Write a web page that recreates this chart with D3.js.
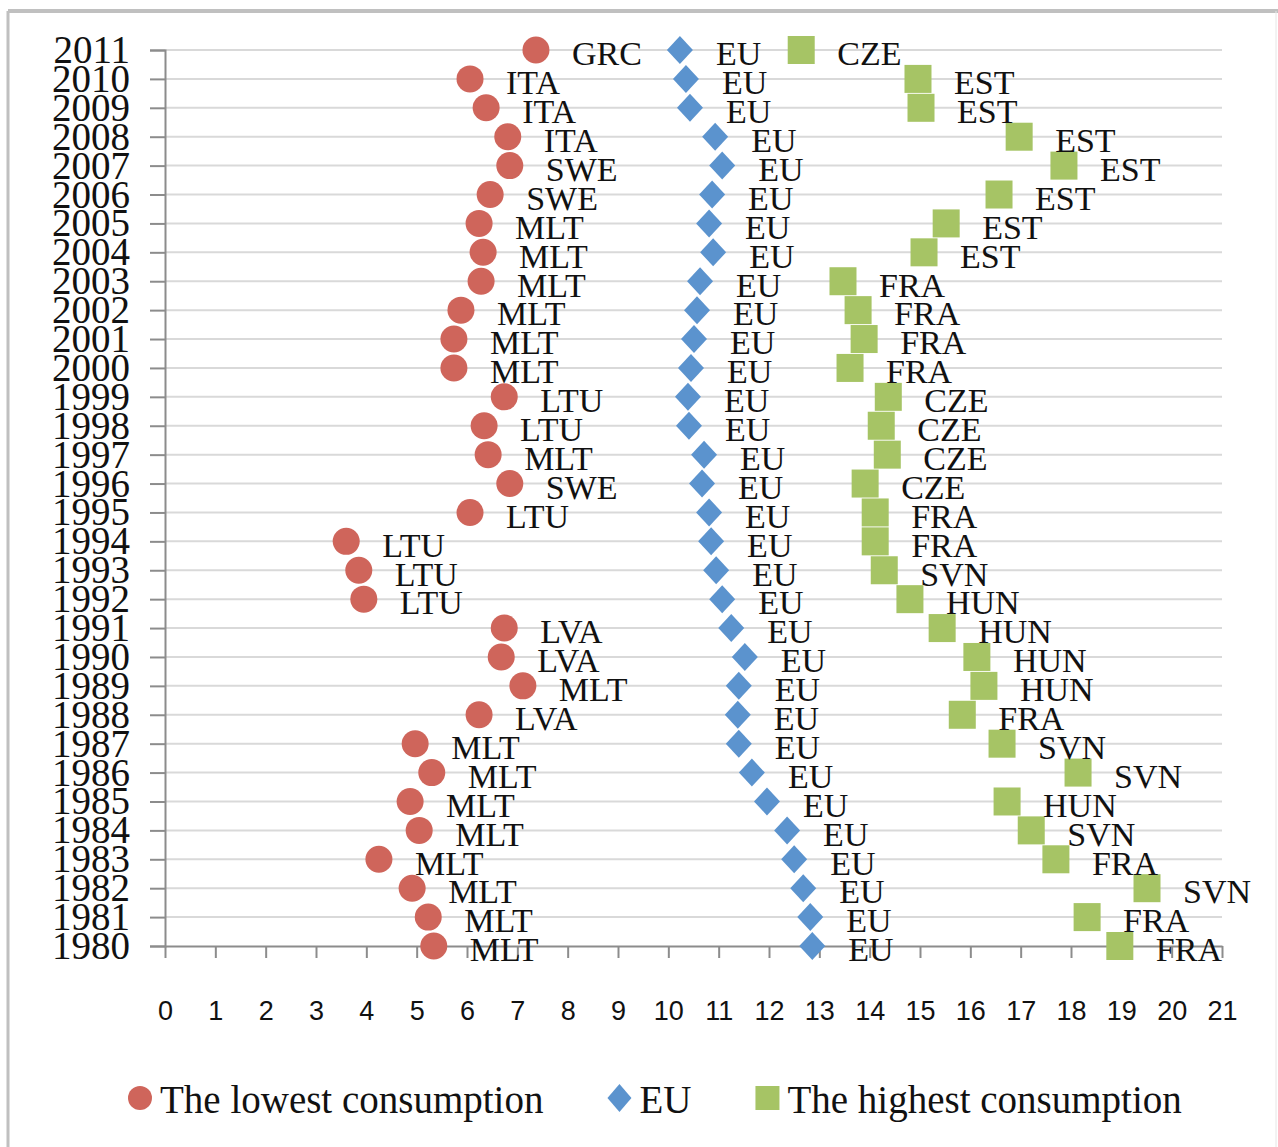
<!DOCTYPE html>
<html>
<head>
<meta charset="utf-8">
<script src="https://cdn.jsdelivr.net/npm/d3@7"></script>
<style>
  html, body { margin: 0; padding: 0; background: #fff; }
  svg { display: block; }
</style>
</head>
<body>
<div id="chart"></div>
<script>
// years from bottom (1980) to top (2011)
var years = d3.range(1980, 2012);

// lowest consumption per year, 1980..2011
var lowValues = [5.34, 5.23, 4.91, 4.25, 5.05, 4.87, 5.30, 4.97, 6.24, 7.11, 6.68, 6.74,
                 3.95, 3.85, 3.60, 6.06, 6.85, 6.42, 6.34, 6.74, 5.74, 5.74, 5.88, 6.28,
                 6.32, 6.24, 6.46, 6.85, 6.81, 6.38, 6.06, 7.37];
var lowLabels = ["MLT", "MLT", "MLT", "MLT", "MLT", "MLT", "MLT", "MLT", "LVA", "MLT", "LVA", "LVA",
                 "LTU", "LTU", "LTU", "LTU", "SWE", "MLT", "LTU", "LTU", "MLT", "MLT", "MLT", "MLT",
                 "MLT", "MLT", "SWE", "SWE", "ITA", "ITA", "ITA", "GRC"];

// EU average per year
var euValues = [12.86, 12.82, 12.68, 12.50, 12.36, 11.96, 11.66, 11.40, 11.38, 11.40, 11.52, 11.25,
                11.07, 10.95, 10.85, 10.81, 10.67, 10.71, 10.41, 10.39, 10.45, 10.51, 10.57, 10.63,
                10.89, 10.81, 10.87, 11.07, 10.93, 10.43, 10.35, 10.23];

// highest consumption per year
var highValues = [18.97, 18.32, 19.51, 17.70, 17.21, 16.73, 18.14, 16.63, 15.84, 16.27, 16.13, 15.44,
                  14.80, 14.29, 14.11, 14.11, 13.91, 14.35, 14.23, 14.37, 13.61, 13.89, 13.77, 13.47,
                  15.08, 15.52, 16.57, 17.86, 16.97, 15.02, 14.96, 12.64];
var highLabels = ["FRA", "FRA", "SVN", "FRA", "SVN", "HUN", "SVN", "SVN", "FRA", "HUN", "HUN", "HUN",
                  "HUN", "SVN", "FRA", "FRA", "CZE", "CZE", "CZE", "CZE", "FRA", "FRA", "FRA", "FRA",
                  "EST", "EST", "EST", "EST", "EST", "EST", "EST", "CZE"];

var xTicks = d3.range(0, 22);
var legendNames = ["The lowest consumption", "EU", "The highest consumption"];

var W = 1278, H = 1147;
var colors = { low: "#cf655b", eu: "#5b93ce", high: "#a6c465" };
var serif = "'Liberation Serif', 'Times New Roman', serif";

var svg = d3.select("#chart").append("svg")
  .attr("width", W).attr("height", H);

// outer frame
svg.append("line").attr("x1", 8).attr("x2", W).attr("y1", 11).attr("y2", 11)
  .attr("stroke", "#c0c0c0").attr("stroke-width", 4);
svg.append("line").attr("x1", 8).attr("x2", 8).attr("y1", 11).attr("y2", H)
  .attr("stroke", "#c0c0c0").attr("stroke-width", 3);
svg.append("line").attr("x1", W - 2).attr("x2", W - 2).attr("y1", 11).attr("y2", H)
  .attr("stroke", "#e6e6e6").attr("stroke-width", 1);

var x = d3.scaleLinear().domain([0, 21]).range([165, 1222]);
var y = d3.scaleLinear().domain([1980, 2011]).range([946, 50]);

// gridlines
svg.append("g").selectAll("line")
  .data(years.slice(1))
  .enter().append("line")
    .attr("x1", x(0)).attr("x2", x(21))
    .attr("y1", function(d) { return y(d); })
    .attr("y2", function(d) { return y(d); })
    .attr("stroke", "#d9d9d9").attr("stroke-width", 2);

// y axis (years)
var yAxis = svg.append("g")
  .attr("transform", "translate(" + x(0) + ",0)")
  .call(d3.axisLeft(y).tickValues(years).tickFormat(d3.format("d")).tickSize(15).tickPadding(20));
yAxis.select(".domain").attr("stroke", "#8c8c8c").attr("stroke-width", 2);
yAxis.selectAll(".tick line").attr("stroke", "#8c8c8c").attr("stroke-width", 2);
yAxis.selectAll("text")
  .attr("font-family", serif).attr("font-size", 39).attr("fill", "#111");

// x axis
var xAxis = svg.append("g")
  .attr("transform", "translate(0," + y(1980) + ")")
  .call(d3.axisBottom(x).tickValues(xTicks).tickFormat(d3.format("d")).tickSize(12).tickPadding(43).tickSizeOuter(0));
xAxis.select(".domain").attr("stroke", "#8c8c8c").attr("stroke-width", 2);
xAxis.selectAll(".tick line").attr("stroke", "#8c8c8c").attr("stroke-width", 2);
xAxis.selectAll("text")
  .attr("font-family", "'Liberation Sans', Arial, sans-serif").attr("font-size", 27).attr("fill", "#111");

// custom marker shapes
var diamondPath = function(cx, cy, w, h) {
  return "M" + cx + "," + (cy - h / 2) + "L" + (cx + w / 2) + "," + cy +
         "L" + cx + "," + (cy + h / 2) + "L" + (cx - w / 2) + "," + cy + "Z";
};

var rows = years.map(function(yr, i) {
  return { year: yr, low: lowValues[i], lowLab: lowLabels[i], eu: euValues[i],
           high: highValues[i], highLab: highLabels[i] };
});

var labelOffset = 36;
var labelFont = 34;

// series: lowest (circles)
var gLow = svg.append("g");
gLow.selectAll("circle").data(rows).enter().append("circle")
  .attr("cx", function(d) { return x(d.low); })
  .attr("cy", function(d) { return y(d.year); })
  .attr("r", 13.5)
  .attr("fill", colors.low);

// series: EU (diamonds)
var gEu = svg.append("g");
gEu.selectAll("path").data(rows).enter().append("path")
  .attr("d", function(d) { return diamondPath(x(d.eu), y(d.year), 26, 28); })
  .attr("fill", colors.eu);

// series: highest (squares)
var gHigh = svg.append("g");
gHigh.selectAll("rect").data(rows).enter().append("rect")
  .attr("x", function(d) { return x(d.high) - 13.5; })
  .attr("y", function(d) { return y(d.year) - 14; })
  .attr("width", 27).attr("height", 28)
  .attr("fill", colors.high);

// data labels
function addLabels(g, valueKey, textFn) {
  g.selectAll("text").data(rows).enter().append("text")
    .attr("x", function(d) { return x(d[valueKey]) + labelOffset; })
    .attr("y", function(d) { return y(d.year); })
    .attr("dy", "0.45em")
    .attr("font-family", serif).attr("font-size", labelFont).attr("fill", "#111")
    .text(textFn);
}
addLabels(svg.append("g"), "low", function(d) { return d.lowLab; });
addLabels(svg.append("g"), "eu", function() { return "EU"; });
addLabels(svg.append("g"), "high", function(d) { return d.highLab; });

// legend
var legend = svg.append("g").attr("transform", "translate(0,1100)");
var lx = 128;
legendNames.forEach(function(name, i) {
  if (i === 0) {
    legend.append("circle").attr("cx", lx + 12).attr("cy", -2).attr("r", 12).attr("fill", colors.low);
  } else if (i === 1) {
    legend.append("path").attr("d", diamondPath(lx + 12, -2, 24, 28)).attr("fill", colors.eu);
  } else {
    legend.append("rect").attr("x", lx).attr("y", -14).attr("width", 24).attr("height", 24).attr("fill", colors.high);
  }
  var t = legend.append("text")
    .attr("x", lx + 32).attr("y", 13)
    .attr("font-family", serif).attr("font-size", 39).attr("fill", "#111")
    .text(name);
  lx += 32 + t.node().getComputedTextLength() + 64;
});
</script>
</body>
</html>
